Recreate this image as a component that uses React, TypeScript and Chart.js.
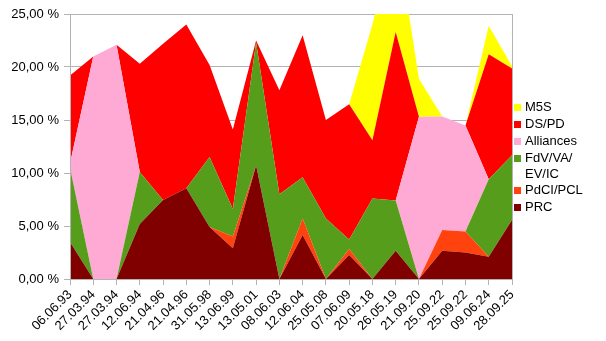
import React, { useEffect, useRef } from 'react';
import { Chart, registerables } from 'chart.js';

Chart.register(...registerables);

const categories = [
  '06.06.93', '27.03.94', '27.03.94', '12.06.94', '21.04.96', '21.04.96', '31.05.98',
  '13.06.99', '13.05.01', '08.06.03', '12.06.04', '25.05.08', '07.06.09', '20.05.18',
  '26.05.19', '21.09.20', '25.09.22', '25.09.22', '09.06.24', '28.09.25',
];

const prc = [3.5, 0, 0, 5.2, 7.45, 8.55, 4.9, 2.9, 10.7, 0, 4.15, 0, 2.26, 0, 2.67, 0, 2.67, 2.5, 2.1, 5.57];
const pdci = [0, 0, 0, 0, 0, 0, 0, 1.1, 0, 0, 1.55, 0, 0.57, 0, 0, 0, 1.95, 1.97, 0, 0];
const fdv = [7.0, 0, 0, 4.9, 0, 0, 6.6, 2.6, 11.6, 8.0, 3.9, 5.7, 0.9, 7.6, 4.73, 0, 0, 0, 7.3, 6.1];
const alliances = [0.4, 21.0, 22.1, 0, 0, 0, 0, 0, 0, 0, 0, 0, 0, 0, 0, 15.3, 10.7, 10.0, 0, 0];
const dspd = [8.3, 0, 0, 10.2, 14.75, 15.45, 8.7, 7.5, 0.2, 9.8, 13.4, 9.3, 12.76, 5.5, 15.9, 0, 0, 0, 11.8, 8.2];
const m5s = [0, 0, 0, 0, 0, 0, 0, 0, 0, 0, 0, 0, 0, 10.9, 9.7, 3.6, 0, 0, 2.7, 0.2];

const yTicks = [0, 5, 10, 15, 20, 25];

const series = [
  { label: 'PRC', legend: ['PRC'], data: prc, color: '#800000' },
  { label: 'PdCI/PCL', legend: ['PdCI/PCL'], data: pdci, color: '#ff420e' },
  { label: 'FdV/VA/EV/IC', legend: ['FdV/VA/', 'EV/IC'], data: fdv, color: '#579d1c' },
  { label: 'Alliances', legend: ['Alliances'], data: alliances, color: '#ffaad4' },
  { label: 'DS/PD', legend: ['DS/PD'], data: dspd, color: '#ff0000' },
  { label: 'M5S', legend: ['M5S'], data: m5s, color: '#ffff00' },
];

const GRID = '#b3b3b3';
const FONT = '"Liberation Sans", Arial, sans-serif';

const framePlugin = {
  id: 'frame',
  afterDatasetsDraw(chart: any) {
    const { ctx, chartArea: a } = chart;
    ctx.save();
    ctx.strokeStyle = GRID;
    ctx.lineWidth = 1;
    ctx.beginPath();
    ctx.moveTo(Math.round(a.left) + 0.5, a.top);
    ctx.lineTo(Math.round(a.left) + 0.5, a.bottom + 0.5);
    ctx.lineTo(Math.round(a.right) + 0.5, a.bottom + 0.5);
    ctx.lineTo(Math.round(a.right) + 0.5, a.top);
    ctx.stroke();
    ctx.restore();
  },
};

const legendPlugin = {
  id: 'customLegend',
  afterDraw(chart: any) {
    const { ctx, chartArea: a } = chart;
    ctx.save();
    ctx.font = `13px ${FONT}`;
    ctx.textBaseline = 'middle';
    ctx.textAlign = 'left';
    const x0 = a.right + 2;
    let y = 107.5;
    const items = [...series].reverse();
    for (const s of items) {
      ctx.fillStyle = s.color;
      ctx.fillRect(x0, Math.round(y - 3.5), 7, 7);
      ctx.fillStyle = '#000';
      s.legend.forEach((line, i) => {
        ctx.fillText(line, x0 + 11, y + i * 16);
      });
      y += 17 + (s.legend.length - 1) * 14.5;
    }
    ctx.restore();
  },
};

export default function App() {
  const ref = useRef<HTMLCanvasElement>(null);
  useEffect(() => {
    if (!ref.current) return;
    Chart.defaults.font.family = FONT;
    const chart = new Chart(ref.current, {
      type: 'line',
      data: {
        labels: categories,
        datasets: series.map((s, i) => ({
          label: s.label,
          data: s.data,
          backgroundColor: s.color,
          borderColor: s.color,
          borderWidth: 0,
          pointRadius: 0,
          tension: 0,
          fill: i === 0 ? 'origin' : '-1',
        })),
      },
      options: {
        animation: false,
        responsive: false,
        maintainAspectRatio: false,
        layout: { padding: { left: 0, top: 14, right: 94, bottom: 0 } },
        plugins: { legend: { display: false }, tooltip: { enabled: false } },
        scales: {
          x: {
            offset: false,
            grid: { drawOnChartArea: false, color: GRID, tickColor: GRID, tickLength: 6 },
            border: { color: GRID },
            ticks: {
              autoSkip: false,
              minRotation: 45,
              maxRotation: 45,
              color: '#000',
              font: { size: 13, family: FONT },
              padding: 2,
            },
            afterFit(scale: any) { scale.height = 62; },
          },
          y: {
            stacked: true,
            min: 0,
            max: 25,
            grid: { color: GRID, tickColor: GRID, tickLength: 6 },
            border: { color: GRID },
            afterBuildTicks(scale: any) { scale.ticks = yTicks.map(v => ({ value: v })); },
            ticks: {
              color: '#000',
              font: { size: 13, family: FONT },
              padding: 5,
              callback: (v: any) => Number(v).toFixed(2).replace('.', ',') + ' %',
            },
            afterFit(scale: any) { scale.width = 70; },
          },
        },
      },
      plugins: [framePlugin, legendPlugin],
    });
    return () => chart.destroy();
  }, []);
  return (
    <div style={{ position: 'fixed', left: 0, top: 0, width: 606, height: 341, background: '#fff' }}>
      <canvas ref={ref} width={606} height={341} style={{ width: 606, height: 341 }} />
    </div>
  );
}
